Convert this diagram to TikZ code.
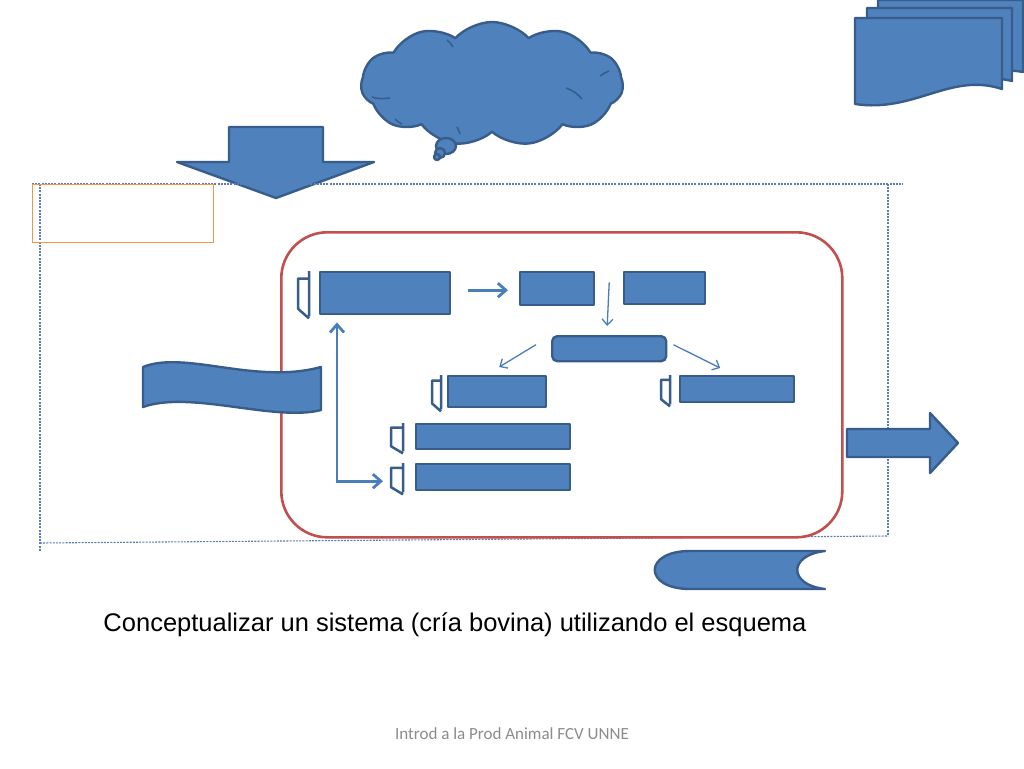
\documentclass[tikz,border=0pt]{standalone}
\usepackage{fontspec}
\setmainfont{Liberation Sans}
\newfontfamily\carl{Carlito}
\usetikzlibrary{calc,shapes.symbols,arrows.meta}
\definecolor{bfill}{HTML}{4F81BD}
\definecolor{bdraw}{HTML}{385D8A}
\definecolor{barrow}{HTML}{4A7EBB}
\definecolor{sysred}{HTML}{C0504D}
\definecolor{orng}{HTML}{F79646}
\definecolor{dotblue}{HTML}{5B7DB1}
\definecolor{foot}{HTML}{8C8C8C}
\tikzset{
  blu/.style={fill=bfill, draw=bdraw, line width=2.4pt, line join=round},
  blk/.style={blu, rectangle, inner sep=0pt, anchor=north west},
  brkstyle/.style={draw=bdraw, line width=2.5pt, line join=round},
  thickarr/.style={draw=barrow, line width=2.8pt, -{Straight Barb[length=8pt,width=14pt]}},
  thinarr/.style={draw=barrow, line width=1.3pt, -{Straight Barb[length=6pt,width=11pt]}},
  dotline/.style={draw=dotblue, line width=1.1pt, dash pattern=on 2pt off 1.2pt},
}
\newcommand\mybrk[3]{%
  \draw[brkstyle] let \p1=(#1.north west), \p2=(#1.south west) in
    (\x1-#2pt,\y1) -- (\x1-#2pt,\y2-1pt)
    (\x1-#2pt,{\y1-0.17*(\y1-\y2)}) -- (\x1-#2pt-#3pt,{\y1-0.17*(\y1-\y2)})
    -- (\x1-#2pt-#3pt,{\y2+0.15*(\y1-\y2)}) -- (\x1-#2pt,\y2-3pt);}
\begin{document}
\begin{tikzpicture}[x=1pt,y=-1pt]
\useasboundingbox (0,0) rectangle (1024,768);
\fill[white] (0,0) rectangle (1024,768);

% stacked documents (top right)
\draw[blu] (878,0) -- (1023,0) -- (1023,72) .. controls (990,66) and (960,80) .. (930,80) -- (878,80) -- cycle;
\draw[blu] (867,8) -- (1012,8) -- (1012,81) .. controls (975,72) and (950,90) .. (920,90) -- (867,90) -- cycle;
\draw[blu] (855,18) -- (1002,18) -- (1002,89) .. controls (950,72) and (915,113) .. (855,104) -- cycle;

% cloud
\node[cloud, cloud puffs=11, cloud puff arc=95, aspect=2.3, blu, minimum width=262pt, minimum height=124pt, inner sep=0pt] (cl) at (492,84) {};
\draw[bdraw, line width=1.6pt] (372,97) .. controls (378,99) and (383,99) .. (390,98)
  (395,119) .. controls (397,121) and (399,123) .. (402,124)
  (447,40) .. controls (450,42) and (451,44) .. (453,47)
  (600,76) .. controls (603,74) and (606,72) .. (609,71)
  (566,88) .. controls (572,90) and (578,94) .. (582,99)
  (457,127) .. controls (458,129) and (459,131) .. (460,134);
\draw[blu] (446,146) ellipse [x radius=10, y radius=8];
\draw[blu] (440,153) circle [radius=5];
\draw[blu] (437,157) circle [radius=3];

% down arrow
\draw[blu] (229,127) -- (323,127) -- (323,162) -- (374,162) -- (276,198) -- (177,162) -- (229,162) -- cycle;

% dotted environment boundary
\draw[dotline] (32,184) -- (903,184);
\draw[dotline] (40,184) -- (40,551);
\draw[dotline] (40,543) -- (888,536);
\draw[dotline] (888,184) -- (888,536);

% orange box
\node[draw=orng, line width=1.2pt, inner sep=0pt, anchor=north west, minimum width=181pt, minimum height=58pt] (ob) at (32,184) {};

% system boundary
\node[draw=sysred, line width=2.6pt, rounded corners=46pt, inner sep=0pt, anchor=north west, minimum width=561pt, minimum height=305pt] (sys) at (280,231) {};

% left wave banner
\draw[blu] (143,367) .. controls (185,350) and (255,385) .. (321,367) -- (321,410) .. controls (275,422) and (190,390) .. (143,407) -- cycle;

% right arrow
\draw[blu] (847,429) -- (930,429) -- (930,413) -- (958,443) -- (930,473) -- (930,457) -- (847,457) -- cycle;

% bottom-right shape
\draw[blu] (825,551) -- (690,551) .. controls (643,551) and (643,589) .. (690,589) -- (825,589) .. controls (788,585) and (788,555) .. (825,551) -- cycle;

% blocks
\node[blk, minimum width=130pt, minimum height=42pt] (A) at (319,271) {};
\node[blk, minimum width=74pt, minimum height=33pt] (B) at (519,271) {};
\node[blk, minimum width=81pt, minimum height=32pt] (C) at (623,271) {};
\node[blk, rounded corners=5pt, minimum width=114pt, minimum height=25pt] (D) at (551,335) {};
\node[blk, minimum width=98pt, minimum height=31pt] (E) at (447,375) {};
\node[blk, minimum width=114pt, minimum height=26pt] (F) at (679,375) {};
\node[blk, minimum width=154pt, minimum height=25pt] (G) at (415,423) {};
\node[blk, minimum width=154pt, minimum height=26pt] (H) at (415,463) {};

% brackets
\mybrk{A}{10}{11}
\mybrk{E}{6}{9}
\mybrk{F}{9}{9}
\mybrk{G}{12}{12}
\mybrk{H}{12}{12}

% connectors
\draw[thickarr] ($(A.east)+(17,-3)$) -- ($(B.west)+(-11,1.5)$);
\draw[thinarr] ($(B.east)!0.5!(C.west)+(0,-6)$) -- ($(D.north)+(-2,-9)$);
\draw[thinarr] ($(D.west)+(-15,-4)$) -- ($(E.north)+(2,-8)$);
\draw[thinarr] ($(D.east)+(6,-4)$) -- ($(F.north)+(-17,-7)$);
\draw[thickarr, {Straight Barb[length=8pt,width=14pt]}-{Straight Barb[length=8pt,width=14pt]}] ($(A.south west)+(18,7)$) |- ($(H.west)+(-32,4)$);

% texts
\node[font=\fontsize{25.5}{30}\selectfont, inner sep=0pt] (cap) at (455,625) {Conceptualizar un sistema (cría bovina) utilizando el esquema};
\node[font=\carl\fontsize{17}{20}\selectfont, text=foot, inner sep=0pt] (ft) at (512,734) {Introd a la Prod Animal FCV UNNE};
\end{tikzpicture}
\end{document}
